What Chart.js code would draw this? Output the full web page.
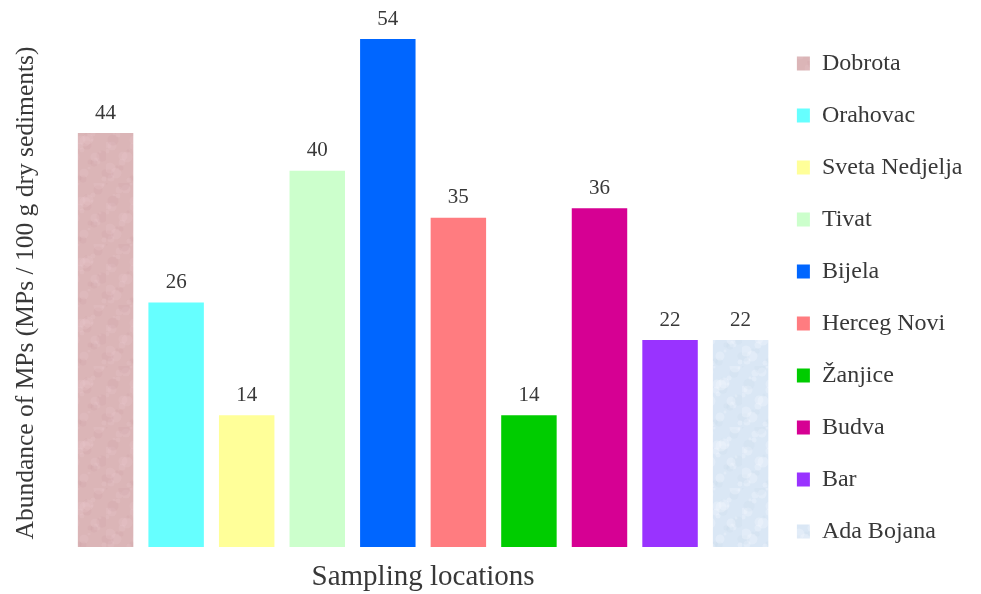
<!DOCTYPE html>
<html><head><meta charset="utf-8">
<script src="https://cdn.jsdelivr.net/npm/chart.js@4.4.1/dist/chart.umd.min.js"></script>
<style>html,body{margin:0;padding:0;background:#fff;} #wrap{width:981px;height:594px;}</style>
</head><body><div id="wrap"><canvas id="c"></canvas></div>
<script>
const categories = ['Dobrota','Orahovac','Sveta Nedjelja','Tivat','Bijela','Herceg Novi','Žanjice','Budva','Bar','Ada Bojana'];
const abundance = [44,26,14,40,54,35,14,36,22,22];
const barColors = ['#dbb5b7','#66ffff','#ffff99','#ccffcc','#0066ff','#ff7c80','#00cc00','#d60093','#9933ff','#dae7f5'];
const yTitle = 'Abundance of MPs (MPs / 100 g dry sediments)';
const xTitle = 'Sampling locations';
const textColor = '#383838';
const fontFamily = "'Liberation Serif', 'Times New Roman', serif";

function makeTexture(base, dark, light) {
  const c = document.createElement('canvas');
  c.width = 53; c.height = 61;
  const g = c.getContext('2d');
  g.fillStyle = base; g.fillRect(0, 0, 53, 61);
  for (let i = 0; i < 46; i++) {
    const x = (i * 29) % 53, y = (i * 23 + (i % 7) * 5) % 61;
    g.fillStyle = i % 3 === 0 ? dark : light;
    g.beginPath(); g.arc(x, y, 1.5 + (i % 5), 0, Math.PI * 2); g.fill();
  }
  return g.createPattern(c, 'repeat');
}
const fills = barColors.slice();
fills[0] = makeTexture(barColors[0], 'rgba(195,150,155,0.14)', 'rgba(238,205,208,0.18)');
fills[9] = makeTexture(barColors[9], 'rgba(190,210,232,0.16)', 'rgba(245,250,255,0.3)');

const valueLabels = {
  id: 'valueLabels',
  afterDatasetsDraw(chart) {
    const ctx = chart.ctx;
    const meta = chart.getDatasetMeta(0);
    ctx.save();
    ctx.font = '21px ' + fontFamily;
    ctx.fillStyle = textColor;
    ctx.textAlign = 'center';
    ctx.textBaseline = 'middle';
    meta.data.forEach((bar, i) => {
      ctx.fillText(String(abundance[i]), bar.x, bar.y - 20);
    });
    ctx.restore();
  }
};

const layoutTweak = {
  id: 'layoutTweak',
  afterLayout(chart) {
    const l = chart.legend;
    if (l) {
      const w = l.right - l.left;
      l.left = l.left - 7;
      l.right = l.left + w;
      l.top = 1;
      l.bottom = chart.height;
      l.height = l.bottom - l.top;
    }
  }
};

Chart.defaults.font.family = fontFamily;
Chart.defaults.color = textColor;

new Chart(document.getElementById('c'), {
  type: 'bar',
  data: {
    labels: categories,
    datasets: [{
      label: 'Abundance',
      data: abundance,
      backgroundColor: fills,
      borderWidth: 0,
      barPercentage: 0.786,
      categoryPercentage: 1.0
    }]
  },
  options: {
    responsive: true,
    maintainAspectRatio: false,
    animation: false,
    layout: { padding: { top: 39, right: 1.5, left: 0, bottom: 0 } },
    plugins: {
      tooltip: { enabled: false },
      legend: {
        position: 'right',
        onClick: null,
        labels: {
          font: { size: 24 },
          color: textColor,
          boxWidth: 13,
          boxHeight: 14,
          padding: 28,
          generateLabels: () => categories.map((name, i) => ({
            text: name,
            fillStyle: fills[i],
            strokeStyle: 'rgba(0,0,0,0)',
            lineWidth: 0,
            hidden: false,
            index: i,
            datasetIndex: 0,
            fontColor: textColor
          }))
        }
      }
    },
    scales: {
      x: {
        grid: { display: false, drawTicks: false },
        border: { display: false },
        ticks: { display: false },
        title: { display: true, text: xTitle, color: textColor, font: { size: 29, lineHeight: 1 }, padding: { top: 15.6, bottom: 2.4 } }
      },
      y: {
        min: 0,
        max: Math.max(...abundance),
        grid: { display: false, drawTicks: false },
        border: { display: false },
        ticks: { display: false },
        title: { display: true, text: yTitle, color: textColor, font: { size: 25.5, lineHeight: 1 }, padding: { top: 13.8, bottom: 31 } }
      }
    }
  },
  plugins: [valueLabels, layoutTweak]
});
</script>
</body></html>
